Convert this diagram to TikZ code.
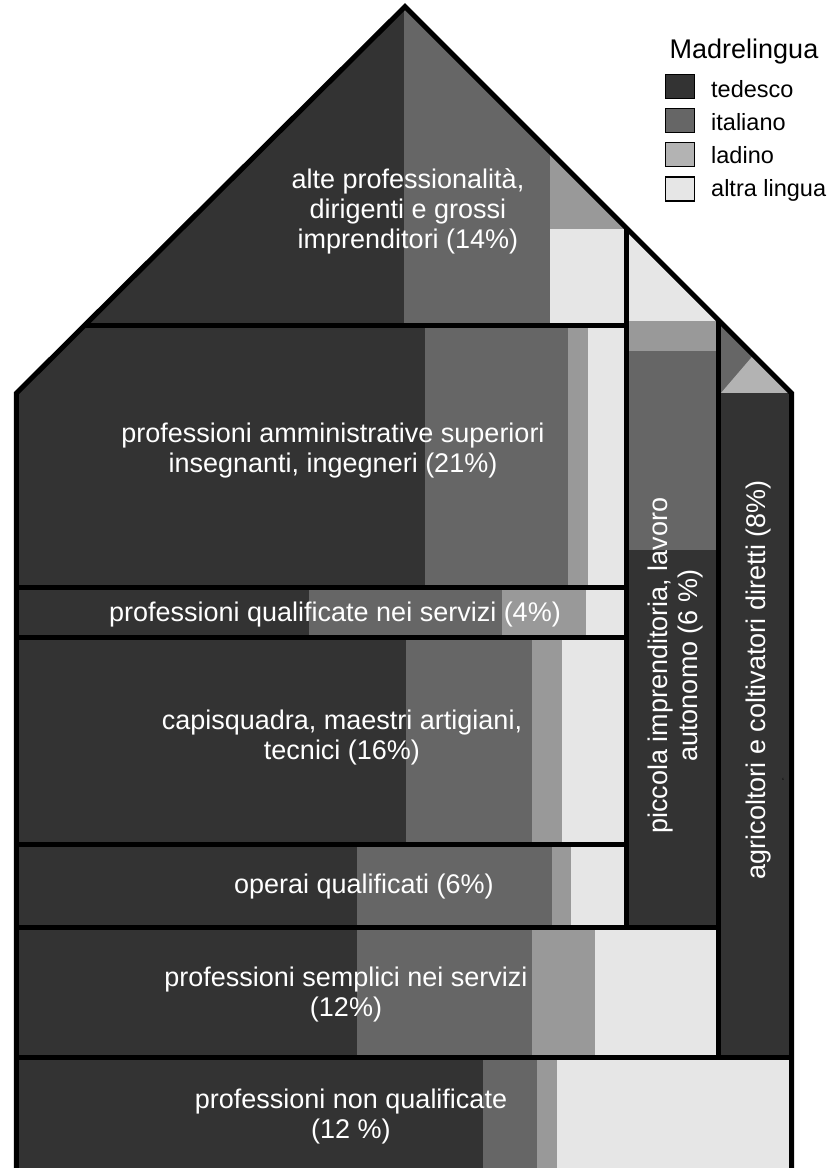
\documentclass[tikz,border=0pt]{standalone}
\usepackage{fontspec}
\setmainfont{Liberation Sans}
\definecolor{ted}{HTML}{333333}
\definecolor{ita}{HTML}{666666}
\definecolor{lad}{HTML}{999999}
\definecolor{ladl}{HTML}{B3B3B3}
\definecolor{alt}{HTML}{E6E6E6}
\begin{document}
\begin{tikzpicture}[x=1pt,y=-1pt,
  lab/.style={text=white,font=\fontsize{27}{30}\selectfont,align=center,inner sep=0pt},
  leg/.style={font=\fontsize{23.5}{26}\selectfont,anchor=base west,inner sep=0pt},
  legbox/.style={draw=black,line width=1.2pt,minimum width=29pt,minimum height=24pt,inner sep=0pt},
  sep/.style={line width=5pt,draw=black}]
\useasboundingbox (0,0) rectangle (833,1168);
\begin{scope}
\clip (16.3,1169) -- (16.3,393.3) -- (405,6.6) -- (791.7,393.3) -- (791.7,1169) -- cycle;
% row 1
\fill[ted] (0,0) rectangle (404,325.5);
\fill[ita] (404,0) rectangle (550,325.5);
\fill[lad] (550,0) rectangle (626.6,229);
\fill[alt] (550,229) rectangle (626.6,325.5);
% row 2
\fill[ted] (0,325.5) rectangle (425,587.5);
\fill[ita] (425,325.5) rectangle (568,587.5);
\fill[lad] (568,325.5) rectangle (588,587.5);
\fill[alt] (588,325.5) rectangle (626.6,587.5);
% row 3
\fill[ted] (0,587.5) rectangle (308.6,637.5);
\fill[ita] (308.6,587.5) rectangle (502,637.5);
\fill[lad] (502,587.5) rectangle (585.7,637.5);
\fill[alt] (585.7,587.5) rectangle (626.6,637.5);
% row 4
\fill[ted] (0,637.5) rectangle (405.8,844.8);
\fill[ita] (405.8,637.5) rectangle (532,844.8);
\fill[lad] (532,637.5) rectangle (561.7,844.8);
\fill[alt] (561.7,637.5) rectangle (626.6,844.8);
% row 5
\fill[ted] (0,844.8) rectangle (356.6,927.2);
\fill[ita] (356.6,844.8) rectangle (551.5,927.2);
\fill[lad] (551.5,844.8) rectangle (571,927.2);
\fill[alt] (571,844.8) rectangle (626.6,927.2);
% piccola imprenditoria column
\fill[alt] (626.6,0) rectangle (718.3,321);
\fill[lad] (626.6,321) rectangle (718.3,350.5);
\fill[ita] (626.6,350.5) rectangle (718.3,550);
\fill[ted] (626.6,550) rectangle (718.3,927.2);
% row 6
\fill[ted] (0,927.2) rectangle (356.6,1057.8);
\fill[ita] (356.6,927.2) rectangle (532.3,1057.8);
\fill[lad] (532.3,927.2) rectangle (595.3,1057.8);
\fill[alt] (595.3,927.2) rectangle (718.3,1057.8);
% agricoltori column
\fill[ita] (718.3,0) rectangle (833,393.3);
\fill[ladl] (720.7,393.3) -- (755,353.3) -- (833,393.3) -- cycle;
\fill[ted] (718.3,393.3) rectangle (833,1057.8);
% row 7
\fill[ted] (0,1057.8) rectangle (483.2,1169);
\fill[ita] (483.2,1057.8) rectangle (536.6,1169);
\fill[lad] (536.6,1057.8) rectangle (556.9,1169);
\fill[alt] (556.9,1057.8) rectangle (833,1169);
% separators
\draw[sep] (0,325.5) -- (626.6,325.5);
\draw[sep] (626.6,0) -- (626.6,927.2);
\draw[sep] (0,587.5) -- (626.6,587.5);
\draw[sep] (0,637.5) -- (626.6,637.5);
\draw[sep] (0,844.8) -- (626.6,844.8);
\draw[sep] (0,927.2) -- (718.3,927.2);
\draw[sep] (718.3,0) -- (718.3,1057.8);
\draw[sep] (0,1057.8) -- (833,1057.8);
\end{scope}
% outline
\draw[sep] (16.3,1169) -- (16.3,393.3) -- (405,6.6) -- (791.7,393.3) -- (791.7,1169);
% labels
\node[lab] (alte) at (408,211) {alte professionalità,\\dirigenti e grossi\\imprenditori (14\%)};
\node[lab] (amm) at (333,451) {professioni amministrative superiori\\insegnanti, ingegneri (21\%)};
\node[lab] (qual) at (335,615) {professioni qualificate nei servizi (4\%)};
\node[lab] (capi) at (342,738) {capisquadra, maestri artigiani,\\tecnici (16\%)};
\node[lab] (oper) at (364,886.7) {operai qualificati (6\%)};
\node[lab] (sempl) at (346,994.5) {professioni semplici nei servizi\\(12\%)};
\node[lab] (nonq) at (351,1116) {professioni non qualificate\\(12 \%)};
\node[lab,rotate=90] (picc) at (675.7,665.5) {piccola imprenditoria, lavoro\\autonomo (6 \%)};
\node[lab,rotate=90] (agri) at (759,679.5) {agricoltori e coltivatori diretti (8\%)};
\node[text=black,font=\fontsize{9}{9}\selectfont,inner sep=0pt] (mark) at (783,781) {‘};
% legend
\node[font=\fontsize{27}{29}\selectfont,anchor=base,inner sep=0pt] (legtitle) at (744,58) {Madrelingua};
\node[legbox,fill=ted] (k1) at (680,86.8) {};
\node[legbox,fill=ita] (k2) at (680,120.8) {};
\node[legbox,fill=ladl] (k3) at (680,154.8) {};
\node[legbox,fill=alt] (k4) at (680,188.9) {};
\node[leg] (t1) at (711,97.3) {tedesco};
\node[leg] (t2) at (711,130.5) {italiano};
\node[leg] (t3) at (711,163.7) {ladino};
\node[leg] (t4) at (711,196.8) {altra lingua};
\end{tikzpicture}
\end{document}
